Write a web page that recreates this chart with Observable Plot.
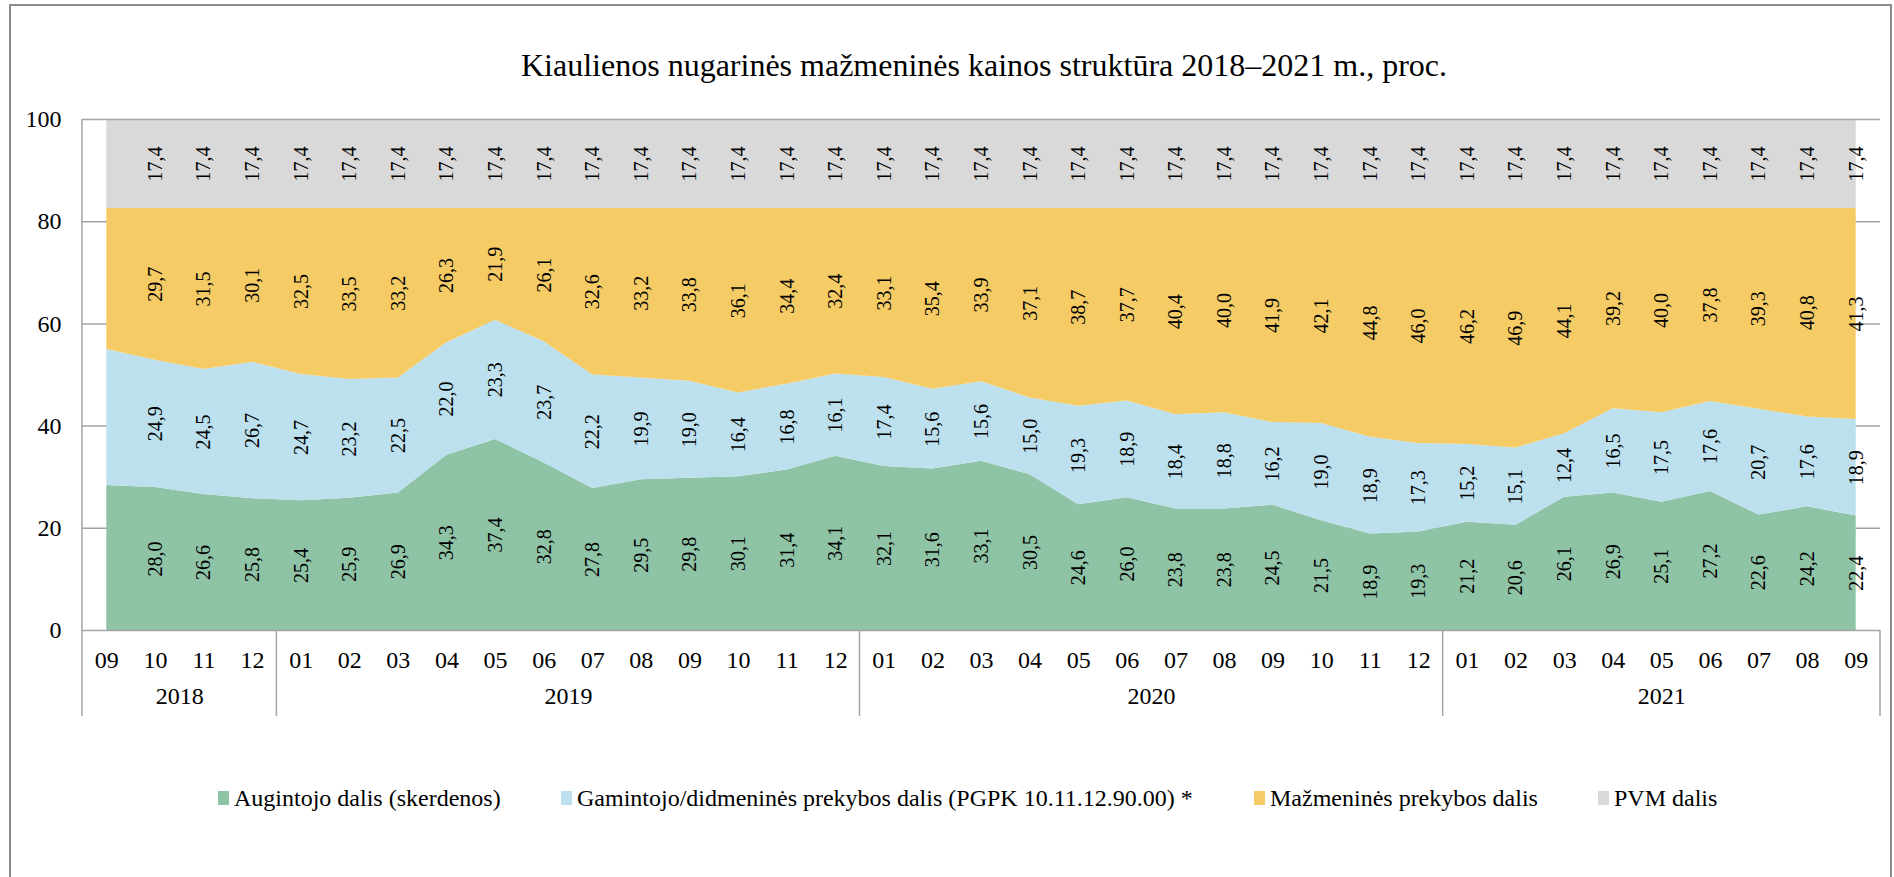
<!DOCTYPE html>
<html>
<head>
<meta charset="utf-8">
<script src="https://cdn.jsdelivr.net/npm/d3@7"></script>
<script src="https://cdn.jsdelivr.net/npm/@observablehq/plot@0.6"></script>
<style>
  html, body { margin: 0; padding: 0; background: #fff; }
  #wrap { position: relative; width: 1894px; height: 877px; overflow: hidden;
          font-family: "Liberation Serif", "Times New Roman", serif; color: #000; }
  #frame { position: absolute; left: 9px; top: 4px; width: 1883px; height: 920px;
           border: 2px solid #8c8c8c; box-sizing: border-box; }
  #title { position: absolute; left: 0; width: 1968px; top: 44px; text-align: center;
           font-family: "Liberation Serif", serif; font-size: 32px; line-height: 42px; white-space: nowrap; }
  #chart { position: absolute; left: 0; top: 100px; }
  #legend { position: absolute; left: 0; top: 783px; width: 1894px; height: 30px;
            font-family: "Liberation Serif", serif; font-size: 24px; }
  .item { position: absolute; top: 0; display: flex; align-items: center; height: 30px; white-space: nowrap; }
  .sw { width: 11px; height: 14px; margin-right: 5px; }
</style>
</head>
<body>
<div id="wrap">
  <div id="frame"></div>
  <div id="title">Kiaulienos nugarinės mažmeninės kainos struktūra 2018–2021 m., proc.</div>
  <div id="chart"></div>
  <div id="legend"></div>
</div>
<script>
// ---- data ----
const months = ["09","10","11","12",
  "01","02","03","04","05","06","07","08","09","10","11","12",
  "01","02","03","04","05","06","07","08","09","10","11","12",
  "01","02","03","04","05","06","07","08","09"];
const yearLabels = ["2018", "2019", "2020", "2021"];
const yearCounts = [4, 12, 12, 9];

const seriesNames = [
  "Augintojo dalis (skerdenos)",
  "Gamintojo/didmeninės prekybos dalis (PGPK 10.11.12.90.00) *",
  "Mažmeninės prekybos dalis",
  "PVM dalis"
];
const seriesColors = ["#8fc3a6", "#bde0ef", "#f5cb66", "#d9d9d9"];

const augintojo = [28.4, 28.0, 26.6, 25.8,
  25.4, 25.9, 26.9, 34.3, 37.4, 32.8, 27.8, 29.5, 29.8, 30.1, 31.4, 34.1,
  32.1, 31.6, 33.1, 30.5, 24.6, 26.0, 23.8, 23.8, 24.5, 21.5, 18.9, 19.3,
  21.2, 20.6, 26.1, 26.9, 25.1, 27.2, 22.6, 24.2, 22.4];
const gamintojo = [26.6, 24.9, 24.5, 26.7,
  24.7, 23.2, 22.5, 22.0, 23.3, 23.7, 22.2, 19.9, 19.0, 16.4, 16.8, 16.1,
  17.4, 15.6, 15.6, 15.0, 19.3, 18.9, 18.4, 18.8, 16.2, 19.0, 18.9, 17.3,
  15.2, 15.1, 12.4, 16.5, 17.5, 17.6, 20.7, 17.6, 18.9];
const mazmenines = [27.6, 29.7, 31.5, 30.1,
  32.5, 33.5, 33.2, 26.3, 21.9, 26.1, 32.6, 33.2, 33.8, 36.1, 34.4, 32.4,
  33.1, 35.4, 33.9, 37.1, 38.7, 37.7, 40.4, 40.0, 41.9, 42.1, 44.8, 46.0,
  46.2, 46.9, 44.1, 39.2, 40.0, 37.8, 39.3, 40.8, 41.3];
const pvm = [17.4, 17.4, 17.4, 17.4,
  17.4, 17.4, 17.4, 17.4, 17.4, 17.4, 17.4, 17.4, 17.4, 17.4, 17.4, 17.4,
  17.4, 17.4, 17.4, 17.4, 17.4, 17.4, 17.4, 17.4, 17.4, 17.4, 17.4, 17.4,
  17.4, 17.4, 17.4, 17.4, 17.4, 17.4, 17.4, 17.4, 17.4];
// first month (2018-09) carries no data labels in the original
const firstLabelledIndex = 1;
const yTicks = [0, 20, 40, 60, 80, 100];

// ---- table built from the arrays ----
const seriesValues = [augintojo, gamintojo, mazmenines, pvm];
const rows = [];
seriesValues.forEach((vals, k) => vals.forEach((v, i) => rows.push({i, v, s: seriesNames[k]})));

const yearStarts = [];
yearCounts.reduce((acc, c) => { yearStarts.push(acc); return acc + c; }, 0);
const yearMid = yearStarts.map((s, k) => s + (yearCounts[k] - 1) / 2);
const boundaries = [...yearStarts.map(s => s - 0.5), months.length - 0.5];

const fmt = v => v.toFixed(1).replace(".", ",");
const gridColor = "#a3a3a3";

const chart = Plot.plot({
  width: 1894,
  height: 640,
  marginLeft: 82,
  marginRight: 14,
  marginTop: 19,
  marginBottom: 110,
  x: {domain: [-0.5, months.length - 0.5], axis: null, label: null},
  y: {domain: [0, 100], axis: null, label: null},
  color: {domain: seriesNames, range: seriesColors},
  style: {fontFamily: "'Liberation Serif', 'Times New Roman', serif", fontSize: "24px", color: "#000", background: "transparent", overflow: "visible"},
  marks: [
    Plot.ruleY(yTicks.filter(t => t > 0 && t < 100), {stroke: gridColor, strokeWidth: 1.5}),
    Plot.areaY(rows, {x: "i", y: "v", z: "s", fill: "s", curve: "linear"}),
    Plot.ruleY([yTicks[0], yTicks[yTicks.length - 1]], {stroke: gridColor, strokeWidth: 1.5}),
    Plot.text(rows, Plot.stackY({
      x: "i", y: "v", z: "s",
      text: d => fmt(d.v),
      filter: d => d.i >= firstLabelledIndex,
      rotate: -90, fontSize: 20, fill: "#000"
    })),
    Plot.axisY({ticks: yTicks, tickSize: 0, tickPadding: 21, fontSize: 24, label: null, tickFormat: d => String(d)}),
    Plot.axisX({ticks: months.map((_, i) => i), tickFormat: i => months[i], tickSize: 0, tickPadding: 20, fontSize: 24, label: null}),
    Plot.text(yearLabels, {x: (d, k) => yearMid[k], text: d => d, frameAnchor: "bottom", dy: 73, fontSize: 24, fill: "#000"})
  ]
});
document.getElementById("chart").appendChild(chart);

// category table lines, positioned through Plot's own scales
const xs = chart.scale("x"), ys = chart.scale("y");
const svg = d3.select(chart);
const yBase = ys.apply(0), yTop = ys.apply(100), yTableBottom = yBase + 86;
svg.append("g").selectAll("line").data(boundaries).join("line")
  .attr("x1", d => xs.apply(d)).attr("x2", d => xs.apply(d))
  .attr("y1", (d, k) => k === 0 ? yTop : yBase)
  .attr("y2", yTableBottom)
  .attr("stroke", gridColor).attr("stroke-width", 1.5);

// legend
const legendX = [218, 561, 1254, 1598];
const legend = document.getElementById("legend");
seriesNames.forEach((name, k) => {
  const it = document.createElement("div");
  it.className = "item";
  it.style.left = legendX[k] + "px";
  it.innerHTML = `<span class="sw" style="background:${seriesColors[k]}"></span><span>${name}</span>`;
  legend.appendChild(it);
});
</script>
</body>
</html>
